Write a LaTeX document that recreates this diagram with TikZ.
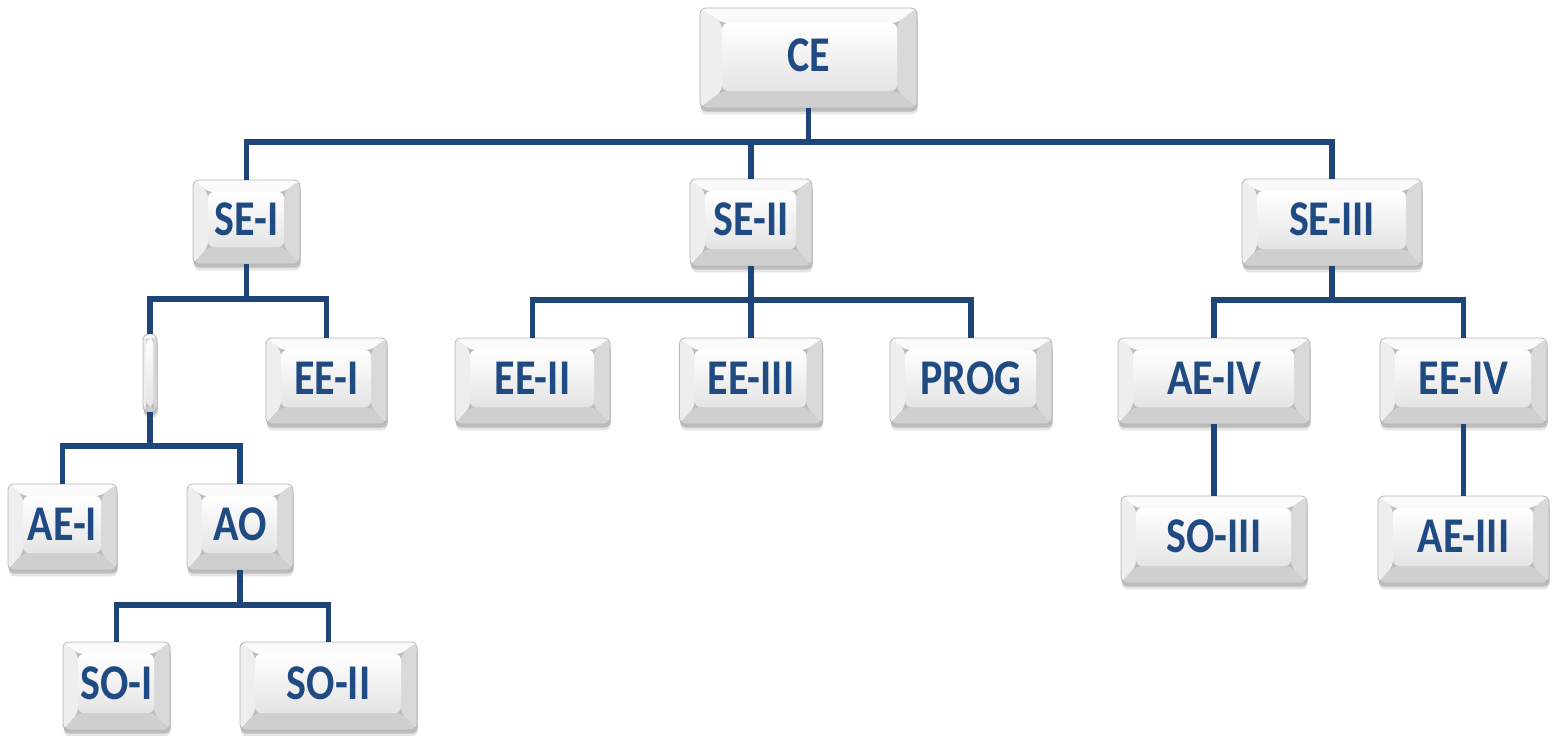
\documentclass[tikz,border=0pt]{standalone}
\usepackage{fontspec}
\newfontfamily\lblfont{Carlito}[FakeStretch=0.84]
\usetikzlibrary{shadows}
\definecolor{labelblue}{HTML}{1F4A82}
\definecolor{wireblue}{HTML}{1E4479}
\definecolor{bevtop}{HTML}{FAFAFA}
\definecolor{bevleft}{HTML}{EEEEEE}
\definecolor{bevright}{HTML}{D9D9D9}
\definecolor{bevbottom}{HTML}{CFCFCF}
\definecolor{faceend}{HTML}{E4E4E4}
\definecolor{rim}{HTML}{B5B5B5}

% bevel insets of the key-cap boxes
\pgfkeys{/bev/.cd, l/.initial=7.5pt, r/.initial=8pt, t/.initial=6pt, b/.initial=8.5pt}

\tikzset{
  bevset/.code={\pgfkeys{/bev/.cd,#1}},
  sz/.style n args={2}{minimum width=#1*0.5pt, minimum height=#2*0.5pt},
  keycap/.style={
    rectangle, rounded corners=3pt, inner sep=0pt, draw=rim, line width=0.4pt,
    font=\lblfont\bfseries\fontsize{25}{25}\selectfont, text=labelblue,
    text height=16pt, text depth=3pt,
    general shadow={shadow xshift=0.4pt, shadow yshift=-3.2pt, fill=black, opacity=0.10},
    general shadow={shadow xshift=0.3pt, shadow yshift=-1.8pt, fill=black, opacity=0.18},
    path picture={
      \path (path picture bounding box.south west) coordinate (bsw)
            (path picture bounding box.north east) coordinate (bne)
            (path picture bounding box.north west) coordinate (bnw)
            (path picture bounding box.south east) coordinate (bse);
      \path ([shift={(\pgfkeysvalueof{/bev/l},\pgfkeysvalueof{/bev/b})}]bsw) coordinate (fsw)
            ([shift={(-\pgfkeysvalueof{/bev/r},-\pgfkeysvalueof{/bev/t})}]bne) coordinate (fne)
            (fsw |- fne) coordinate (fnw)
            (fne |- fsw) coordinate (fse);
      \fill[bevtop] (bnw) -- (bne) -- (fne) -- (fnw) -- cycle;
      \fill[bevleft] (bsw) -- (bnw) -- (fnw) -- (fsw) -- cycle;
      \fill[bevright] (bne) -- (bse) -- (fse) -- (fne) -- cycle;
      \fill[bevbottom] (bsw) -- (bse) -- (fse) -- (fsw) -- cycle;
      \shade[top color=white, bottom color=faceend] (fsw) rectangle (fne);
    }
  },
  conn/.style={draw=wireblue, line width=2.7pt}
}

\begin{document}
\begin{tikzpicture}[x=0.5pt, y=-0.5pt]
\useasboundingbox (0,0) rectangle (1553,735);

% level 0
\node[keycap, sz={217}{100}, bevset={l=11pt, r=10pt, t=7.5pt}] (CE) at (808.5,58) {CE};

% level 1
\node[keycap, sz={107}{84}]  (SEI)   at (246.5,222) {SE-I};
\node[keycap, sz={122}{87}]  (SEII)  at (751,222.5) {SE-II};
\node[keycap, sz={180}{87}]  (SEIII) at (1332,222.5) {SE-III};

% level 2
\node[keycap, sz={14}{78}, bevset={l=1.8pt, r=1.8pt, t=2pt, b=2.5pt}] (GAP) at (150,373) {};
\node[keycap, sz={121}{86}]  (EEI)   at (326.5,381) {EE-I};
\node[keycap, sz={155}{86}]  (EEII)  at (532.5,381) {EE-II};
\node[keycap, sz={143}{86}]  (EEIII) at (751,381) {EE-III};
\node[keycap, sz={162}{86}]  (PROG)  at (971,381) {PROG};
\node[keycap, sz={192}{86}]  (AEIV)  at (1214,381) {AE-IV};
\node[keycap, sz={167}{86}]  (EEIV)  at (1463.5,381) {EE-IV};

% level 3
\node[keycap, sz={109}{86}]  (AEI)   at (62.5,527) {AE-I};
\node[keycap, sz={106}{86}]  (AO)    at (240,527) {AO};
\node[keycap, sz={186}{87}]  (SOIII) at (1214,539.5) {SO-III};
\node[keycap, sz={171}{87}]  (AEIII) at (1463.5,539.5) {AE-III};

% level 4
\node[keycap, sz={107}{88}]  (SOI)   at (116.5,686) {SO-I};
\node[keycap, sz={177}{88}]  (SOII)  at (328.5,686) {SO-II};

% bus junctions
\coordinate (j0) at (808.5,142);
\coordinate (j1) at (246.5,299);
\coordinate (j2) at (751,300);
\coordinate (j3) at (1332,300);
\coordinate (j4) at (150,446);
\coordinate (j5) at (240,605);

% CE to the three SE boxes
\draw[conn] (CE.south) -- (j0);
\draw[conn] (SEI.north) |- (j0) -| (SEIII.north);
\draw[conn] (SEII.north) -- (SEII.north |- j0);

% SE-I branch
\draw[conn] (SEI.south) -- (j1);
\draw[conn] (GAP.north) |- (j1) -| (EEI.north);
\draw[conn] (GAP.south) -- (j4);
\draw[conn] (AEI.north) |- (j4) -| (AO.north);
\draw[conn] (AO.south) -- (j5);
\draw[conn] (SOI.north) |- (j5) -| (SOII.north);

% SE-II branch
\draw[conn] (SEII.south) -- (j2);
\draw[conn] (EEII.north) |- (j2) -| (PROG.north);
\draw[conn] (EEIII.north) -- (EEIII.north |- j2);

% SE-III branch
\draw[conn] (SEIII.south) -- (j3);
\draw[conn] (AEIV.north) |- (j3) -| (EEIV.north);
\draw[conn] (AEIV.south) -- (AEIV.south |- SOIII.north);
\draw[conn] (EEIV.south) -- (EEIV.south |- AEIII.north);
\end{tikzpicture}
\end{document}
